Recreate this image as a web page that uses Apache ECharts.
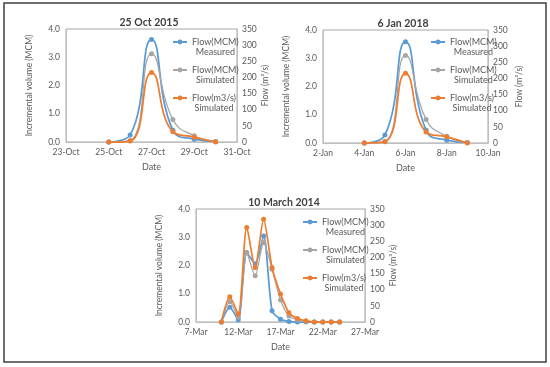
<!DOCTYPE html>
<html>
<head>
<meta charset="utf-8">
<script src="https://cdn.jsdelivr.net/npm/echarts@6/dist/echarts.min.js"></script>
<style>
html,body{margin:0;padding:0;background:#fff;}
#c{width:550px;height:367px;}
</style>
</head>
<body>
<div id="c"></div>
<script>
// ---- Data ----
const seriesNames = ['Flow(MCM) Measured', 'Flow(MCM) Simulated', 'Flow(m3/s) Simulated'];
const leftTicks = [0, 1, 2, 3, 4];
const rightTicks = [0, 50, 100, 150, 200, 250, 300, 350];

// Chart 1: 25 Oct 2015
const octTitle = '25 Oct 2015';
const octMonth = 'Oct';
const octRange = [23, 31];
const octDays = [25, 26, 27, 28, 29, 30];
const octMeasured = [0, 0.25, 3.63, 0.42, 0.10, 0.02];
const octSimMCM = [0, 0.05, 3.12, 0.80, 0.22, 0.02];
const octSimFlow = [0, 3, 215, 32, 15, 0];

// Chart 2: 6 Jan 2018
const janTitle = '6 Jan 2018';
const janMonth = 'Jan';
const janRange = [2, 10];
const janDays = [4, 5, 6, 7, 8, 9];
const janMeasured = [0, 0.28, 3.58, 0.45, 0.10, 0.02];
const janSimMCM = [0, 0.05, 3.10, 0.83, 0.24, 0.02];
const janSimFlow = [0, 4, 216, 34, 19, 0];

// Chart 3: 10 March 2014
const marTitle = '10 March 2014';
const marMonth = 'Mar';
const marRange = [7, 27];
const marDays = [10, 11, 12, 13, 14, 15, 16, 17, 18, 19, 20, 21, 22, 23, 24];
const marMeasured = [0, 0.52, 0.08, 2.46, 2.06, 3.04, 0.40, 0.10, 0.02, 0, 0, 0, 0, 0, 0];
const marSimMCM = [0, 0.72, 0.17, 2.44, 1.64, 2.81, 1.87, 0.78, 0.21, 0.08, 0.02, 0, 0, 0, 0];
const marSimFlow = [0, 78, 25, 293, 169, 318, 169, 87, 29, 11, 4, 0, 0, 0, 0];

// ---- Build ----
const FONT = 'Lato';
const LABEL = '#595959';
const colors = ['#5B9BD5', '#A5A5A5', '#ED7D31'];

const charts = [
  {title: octTitle, month: octMonth, range: octRange, interval: 2, days: octDays, vals: [octMeasured, octSimMCM, octSimFlow],
   grid: {left: 66, right: 313, top: 29, bottom: 225}, titleX: 144, titleY: 12, legendX: 172, legendY: 27, smooth: 0.5, rName: 24},
  {title: janTitle, month: janMonth, range: janRange, interval: 2, days: janDays, vals: [janMeasured, janSimMCM, janSimFlow],
   grid: {left: 323, right: 62, top: 30, bottom: 224}, titleX: 398, titleY: 13, legendX: 430, legendY: 27, smooth: 0.5, rName: 27},
  {title: marTitle, month: marMonth, range: marRange, interval: 5, days: marDays, vals: [marMeasured, marSimMCM, marSimFlow],
   grid: {left: 196, right: 185, top: 209, bottom: 45}, titleX: 279, titleY: 192, legendX: 302, legendY: 207, smooth: 0.25, rName: 24}
];

const option = {
  animation: false,
  backgroundColor: '#fff',
  textStyle: {fontFamily: FONT},
  title: [], grid: [], xAxis: [], yAxis: [], legend: [], series: [],
  graphic: [{
    type: 'rect', shape: {x: 4, y: 3, width: 542, height: 359},
    style: {fill: 'none', stroke: '#404040', lineWidth: 1.5}, silent: true
  }]
};

charts.forEach((c, i) => {
  option.title.push({
    text: c.title, left: c.titleX, top: c.titleY, textAlign: 'center',
    textStyle: {fontSize: 10.5, fontWeight: 'bold', color: '#404040', fontFamily: FONT}
  });
  option.grid.push(Object.assign({show: true, borderColor: '#a6a6a6', borderWidth: 1, backgroundColor: 'transparent'}, c.grid));
  const x0 = c.range[0];
  option.xAxis.push({
    type: 'value', gridIndex: i, min: 0, max: c.range[1] - x0, interval: c.interval,
    name: 'Date', nameLocation: 'middle', nameGap: 21,
    nameTextStyle: {fontSize: 9, color: LABEL, fontFamily: FONT},
    axisLine: {lineStyle: {color: '#bfbfbf'}}, axisTick: {show: false}, splitLine: {show: false},
    axisLabel: {fontSize: 8.5, color: LABEL, margin: 6, fontFamily: FONT,
      formatter: v => (v + x0) + '-' + c.month}
  });
  option.yAxis.push({
    type: 'value', gridIndex: i, min: leftTicks[0], max: leftTicks[leftTicks.length - 1], interval: 1,
    name: 'Incremental volume (MCM)', nameLocation: 'middle', nameGap: 32, nameRotate: 90,
    nameTextStyle: {fontSize: 8.5, color: LABEL, fontFamily: FONT},
    axisLine: {show: true, lineStyle: {color: '#bfbfbf'}}, axisTick: {show: false}, splitLine: {show: false},
    axisLabel: {fontSize: 8.5, color: LABEL, margin: 6, fontFamily: FONT, formatter: v => v.toFixed(1)}
  });
  option.yAxis.push({
    type: 'value', gridIndex: i, position: 'right', min: rightTicks[0], max: rightTicks[rightTicks.length - 1], interval: 50,
    name: 'Flow (m³/s)', nameLocation: 'middle', nameGap: c.rName, nameRotate: 90,
    nameTextStyle: {fontSize: 8.5, color: LABEL, fontFamily: FONT},
    axisLine: {show: true, lineStyle: {color: '#bfbfbf'}}, axisTick: {show: false}, splitLine: {show: false},
    axisLabel: {fontSize: 8.5, color: LABEL, margin: 5, fontFamily: FONT}
  });
  option.legend.push({
    orient: 'vertical', left: c.legendX, top: c.legendY, padding: 0,
    itemWidth: 14, itemHeight: 6, itemGap: -2, itemStyle: {}, selectedMode: false,
    data: seriesNames,
    formatter: n => n.split(' ').map(s => '{a|' + s + '}').join('\n'),
    textStyle: {fontSize: 9, lineHeight: 10, color: LABEL, fontFamily: FONT, padding: [10, 0, 0, 0],
      rich: {a: {fontSize: 9, lineHeight: 10, color: LABEL, fontFamily: FONT, align: 'center'}}}
  });
  c.vals.forEach((vals, k) => {
    option.series.push({
      name: seriesNames[k], type: 'line', xAxisIndex: i, yAxisIndex: i * 2 + (k === 2 ? 1 : 0),
      data: c.days.map((d, j) => [d - x0, vals[j]]),
      smooth: c.smooth, symbol: 'circle', symbolSize: 5,
      itemStyle: {color: colors[k]},
      lineStyle: {color: colors[k], width: k === 1 ? 1.25 : 1.75},
      z: 2 + k
    });
  });
});

const chart = echarts.init(document.getElementById('c'), null, {renderer: 'canvas'});
chart.setOption(option);
</script>
</body>
</html>
